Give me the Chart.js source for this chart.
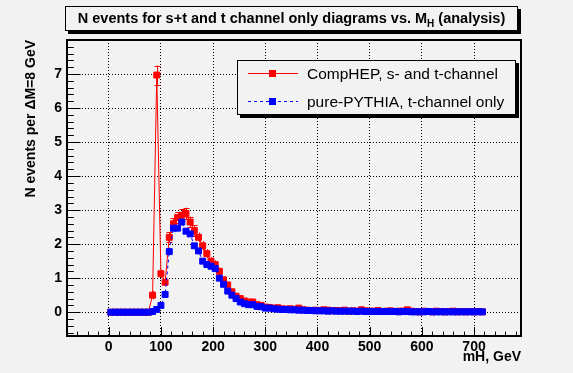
<!DOCTYPE html>
<html><head><meta charset="utf-8">
<script src="https://cdn.jsdelivr.net/npm/chart.js@4.4.0/dist/chart.umd.min.js"></script>
<style>html,body{margin:0;padding:0;background:#f2f2f2;overflow:hidden}canvas{display:block}</style>
</head><body>
<canvas id="c" width="573" height="373" style="width:573px;height:373px"></canvas>
<script>
// bin centres (GeV), 8 GeV bins
const massBins = [4,12,20,28,36,44,52,60,68,76,84,92,100,108,116,124,132,140,148,156,164,172,180,188,196,204,212,220,228,236,244,252,260,268,276,284,292,300,308,316,324,332,340,348,356,364,372,380,388,396,404,412,420,428,436,444,452,460,468,476,484,492,500,508,516,524,532,540,548,556,564,572,580,588,596,604,612,620,628,636,644,652,660,668,676,684,692,700,708,716];
const compHEP = [0,0,0,0,0,0,0,0,0,0,0.5,6.97,1.13,0.88,2.2,2.6,2.78,2.85,2.9,2.65,2.4,2.2,1.95,1.72,1.5,1.4,1.2,0.95,0.8,0.6,0.47,0.4,0.33,0.3,0.3,0.22,0.2,0.15,0.14,0.12,0.13,0.1,0.09,0.1,0.08,0.12,0.07,0.06,0.05,0.06,0.05,0.07,0.06,0.04,0.05,0.04,0.06,0.03,0.04,0.03,0.07,0.04,0.03,0.03,0.05,0.02,0.03,0.04,0.02,0.03,0.03,0.07,0.03,0.02,0.01,0.03,0.02,0.01,0.03,0.02,0.01,0.02,0.03,0.01,0.02,0.01,0.02,0.01,0.02,0.01];
const compHEPErr = [0,0,0,0,0,0,0,0,0,0,0.12,0.28,0.12,0.11,0.15,0.16,0.16,0.17,0.17,0.16,0.15,0.14,0.14,0.13,0.12,0.12,0.11,0.1,0.09,0.08,0.07,0.06,0.06,0.05,0.05,0.05,0.04,0.04,0.04,0.03,0.03,0.03,0.03,0.03,0.03,0.03,0.03,0.02,0.02,0.02,0.02,0.02,0.02,0.02,0.02,0.02,0.02,0.02,0.02,0.02,0.02,0.02,0.02,0.02,0.02,0.01,0.02,0.02,0.01,0.02,0.02,0.02,0.02,0.01,0.01,0.02,0.01,0.01,0.02,0.01,0.01,0.01,0.02,0.01,0.01,0.01,0.01,0.01,0.01,0.01];
const pythia = [0,0,0,0,0,0,0,0,0,0,0.02,0.08,0.2,0.52,1.78,2.47,2.47,2.65,2.38,2.3,1.95,1.8,1.5,1.4,1.35,1.28,1.0,0.82,0.62,0.5,0.4,0.3,0.25,0.22,0.22,0.17,0.16,0.12,0.12,0.1,0.09,0.08,0.08,0.07,0.07,0.06,0.06,0.05,0.05,0.04,0.04,0.04,0.03,0.04,0.03,0.03,0.03,0.03,0.03,0.02,0.03,0.02,0.02,0.02,0.02,0.02,0.02,0.02,0.02,0.01,0.02,0.02,0.01,0.01,0.01,0.01,0.02,0.01,0.01,0.01,0.01,0.01,0.01,0.01,0.01,0.01,0.01,0.01,0.01,0.01];
const xTickValues = [0,100,200,300,400,500,600,700];
const yTickValues = [0,1,2,3,4,5,6,7];
const titleMain = 'N events for s+t and t channel only diagrams vs. M';
const titleSub = 'H';
const titleTail = ' (analysis)';
const xTitle = 'mH, GeV';
const yTitle = 'N events per \u0394M=8 GeV';
const seriesNames = ['CompHEP, s- and t-channel', 'pure-PYTHIA, t-channel only'];

const FONT = '"Liberation Sans", Arial, Helvetica, sans-serif';
const BG = '#f2f2f2';
const X_MIN = -80, X_MAX = 790, Y_MIN = -0.7, Y_MAX = 8.0;

function rectMarker(ctx, x, y, s, color){
  ctx.fillStyle = color;
  ctx.fillRect(Math.round(x - s/2), Math.round(y - s/2), s, s);
}

const decor = {
  id: 'decor',
  beforeDraw(chart){
    const ctx = chart.ctx;
    ctx.save(); ctx.fillStyle = BG; ctx.fillRect(0,0,chart.width,chart.height); ctx.restore();
  },
  beforeDatasetDraw(chart, args){
    const ds = chart.data.datasets[args.index];
    if (!ds.errors) return;
    const ctx = chart.ctx, xs = chart.scales.x, ys = chart.scales.y, a = chart.chartArea;
    ctx.save();
    ctx.beginPath(); ctx.rect(a.left, a.top, a.right-a.left, a.bottom-a.top); ctx.clip();
    ctx.strokeStyle = ds.borderColor; ctx.lineWidth = 1;
    ds.data.forEach((p, i) => {
      const e = ds.errors[i];
      if (!e) return;
      const px = Math.round(xs.getPixelForValue(p.x)) + 0.5;
      const y1 = ys.getPixelForValue(p.y + e), y2 = ys.getPixelForValue(p.y - e);
      ctx.beginPath(); ctx.moveTo(px, y1); ctx.lineTo(px, y2); ctx.stroke();
      if (y2 - y1 > 10) {
        ctx.beginPath();
        ctx.moveTo(px-3, Math.round(y1)+0.5); ctx.lineTo(px+3, Math.round(y1)+0.5);
        ctx.moveTo(px-3, Math.round(y2)+0.5); ctx.lineTo(px+3, Math.round(y2)+0.5);
        ctx.stroke();
      }
    });
    ctx.restore();
  },
  afterDraw(chart){
    const ctx = chart.ctx, xs = chart.scales.x, ys = chart.scales.y, a = chart.chartArea;
    ctx.save();
    // frame
    ctx.strokeStyle = '#000'; ctx.lineWidth = 2;
    ctx.strokeRect(a.left, a.top, a.right - a.left, a.bottom - a.top);
    // ticks (inward)
    ctx.lineWidth = 1;
    ctx.beginPath();
    for (let k = -3; k <= 40; k++) {
      const v = k * 0.2;
      if (v < Y_MIN || v > Y_MAX) continue;
      const y = Math.round(ys.getPixelForValue(v)) + 0.5;
      const major = Math.abs(v - Math.round(v)) < 1e-6;
      ctx.moveTo(a.left, y); ctx.lineTo(a.left + (major ? 13.6 : 6.8), y);
    }
    for (let k = -4; k <= 39; k++) {
      const v = k * 20;
      if (v < X_MIN || v > X_MAX) continue;
      const x = Math.round(xs.getPixelForValue(v)) + 0.5;
      const major = v % 100 === 0;
      ctx.moveTo(x, a.bottom); ctx.lineTo(x, a.bottom - (major ? 8.9 : 4.4));
    }
    ctx.stroke();

    // axis titles
    ctx.fillStyle = '#000';
    ctx.font = 'bold 14px ' + FONT;
    ctx.textAlign = 'right'; ctx.textBaseline = 'alphabetic';
    ctx.fillText(xTitle, a.right, 361);
    ctx.save();
    ctx.translate(35, a.top);
    ctx.rotate(-Math.PI/2);
    ctx.textAlign = 'right';
    ctx.fillText(yTitle, 0, 0);
    ctx.restore();

    // title box
    const tb = {x: 65, y: 6, w: 453, h: 25};
    ctx.fillStyle = '#000';
    ctx.fillRect(tb.x + 3, tb.y + 3, tb.w, tb.h);
    ctx.fillStyle = BG;
    ctx.fillRect(tb.x, tb.y, tb.w, tb.h);
    ctx.strokeStyle = '#000'; ctx.lineWidth = 1;
    ctx.strokeRect(tb.x + 0.5, tb.y + 0.5, tb.w - 1, tb.h - 1);
    ctx.fillStyle = '#000';
    const TF = 'bold 14.5px ' + FONT, SF = 'bold 10px ' + FONT;
    ctx.font = TF;
    const w1 = ctx.measureText(titleMain).width;
    const w3 = ctx.measureText(titleTail).width;
    ctx.font = SF;
    const w2 = ctx.measureText(titleSub).width;
    const tot = w1 + w2 + w3;
    let tx = tb.x + tb.w/2 - tot/2;
    const tyBase = 23;
    ctx.textAlign = 'left';
    ctx.font = TF;
    ctx.fillText(titleMain, tx, tyBase);
    ctx.font = SF;
    ctx.fillText(titleSub, tx + w1, tyBase + 4);
    ctx.font = TF;
    ctx.fillText(titleTail, tx + w1 + w2, tyBase);

    // legend
    const lb = {x: 237, y: 60, w: 279, h: 55};
    ctx.fillStyle = '#000';
    ctx.fillRect(lb.x + 3, lb.y + 3, lb.w, lb.h);
    ctx.fillStyle = BG;
    ctx.fillRect(lb.x, lb.y, lb.w, lb.h);
    ctx.strokeRect(lb.x + 0.5, lb.y + 0.5, lb.w - 1, lb.h - 1);
    const rows = [
      {y: 73.5, color: '#ff0000', dash: [], name: seriesNames[0]},
      {y: 101.5, color: '#0000ff', dash: [3,3], name: seriesNames[1]}
    ];
    ctx.font = '15.5px ' + FONT;
    ctx.textBaseline = 'middle';
    rows.forEach(r => {
      ctx.strokeStyle = r.color; ctx.lineWidth = 1; ctx.setLineDash(r.dash);
      ctx.beginPath(); ctx.moveTo(248, r.y); ctx.lineTo(298, r.y); ctx.stroke();
      ctx.setLineDash([]);
      rectMarker(ctx, 272.5, r.y, 7, r.color);
      ctx.fillStyle = '#000';
      ctx.fillText(r.name, 307, r.y + 1);
    });
    ctx.restore();
  }
};

new Chart(document.getElementById('c'), {
  type: 'line',
  data: {
    datasets: [
      {
        label: seriesNames[0],
        data: massBins.map((m, i) => ({x: m, y: compHEP[i]})),
        errors: compHEPErr,
        borderColor: '#ff0000', backgroundColor: '#ff0000',
        borderWidth: 1, pointStyle: 'rect', pointRadius: 4.2, pointBorderWidth: 1,
        pointBorderColor: '#ff0000', pointBackgroundColor: '#ff0000',
        tension: 0, order: 1
      },
      {
        label: seriesNames[1],
        data: massBins.map((m, i) => ({x: m, y: pythia[i]})),
        borderColor: '#0000ff', backgroundColor: '#0000ff',
        borderWidth: 1, borderDash: [3,3], pointStyle: 'rect', pointRadius: 4.2, pointBorderWidth: 1,
        pointBorderColor: '#0000ff', pointBackgroundColor: '#0000ff',
        tension: 0, order: 0
      }
    ]
  },
  options: {
    responsive: false, animation: false, devicePixelRatio: 1,
    layout: {padding: {top: 40, right: 52, left: 0, bottom: 0}},
    plugins: {legend: {display: false}, title: {display: false}, tooltip: {enabled: false}},
    scales: {
      x: {
        type: 'linear', min: X_MIN, max: X_MAX,
        afterFit(s){ s.height = 37; },
        afterBuildTicks(s){ s.ticks = xTickValues.map(v => ({value: v})); },
        ticks: {color: '#000', font: {family: FONT, size: 14, weight: 'bold'}, padding: 3, maxRotation: 0, autoSkip: false},
        grid: {color: '#000', lineWidth: 1, drawTicks: false},
        border: {display: false, dash: [1,2]}
      },
      y: {
        type: 'linear', min: Y_MIN, max: Y_MAX,
        afterFit(s){ s.width = 67; },
        afterBuildTicks(s){ s.ticks = yTickValues.map(v => ({value: v})); },
        ticks: {color: '#000', font: {family: FONT, size: 14, weight: 'bold'}, padding: 5, autoSkip: false},
        grid: {color: '#000', lineWidth: 1, drawTicks: false},
        border: {display: false, dash: [1,2]}
      }
    }
  },
  plugins: [decor]
});
</script>
</body></html>
